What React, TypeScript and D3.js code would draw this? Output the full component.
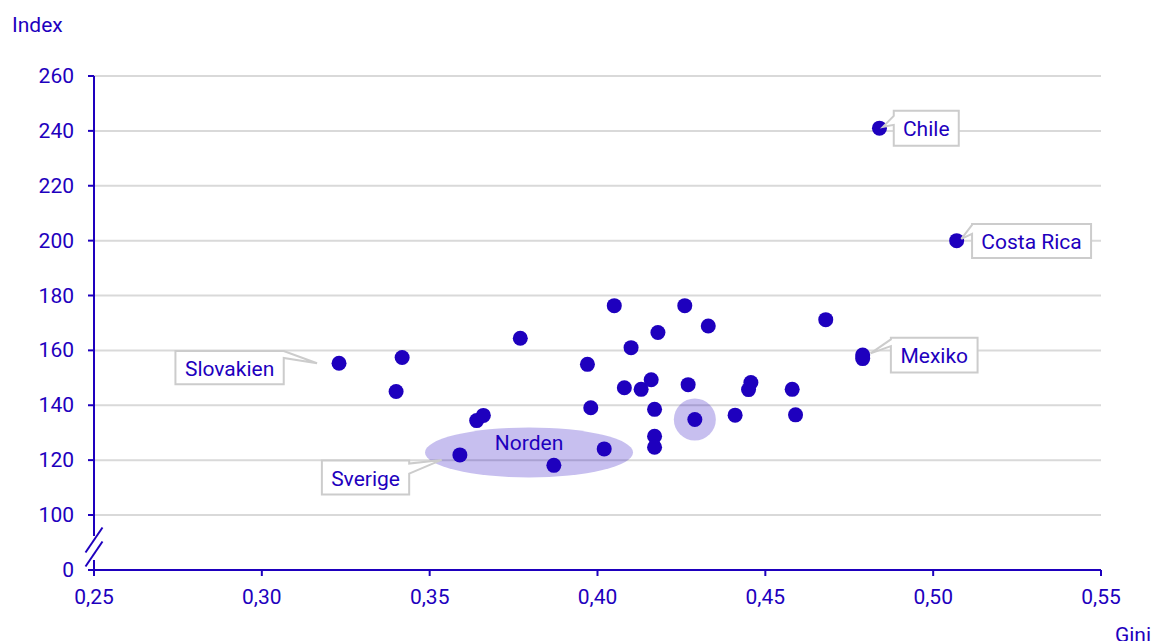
import React from "react";
import * as d3 from "d3";

const giniValues = [
  0.323, 0.3418, 0.340, 0.364, 0.366, 0.377, 0.359, 0.387, 0.402, 0.397,
  0.398, 0.405, 0.410, 0.408, 0.413, 0.416, 0.417, 0.417, 0.417, 0.418,
  0.426, 0.427, 0.429, 0.433, 0.441, 0.4457, 0.445, 0.458, 0.459, 0.468,
  0.479, 0.479, 0.484, 0.507,
];
const indexValues = [
  155.3, 157.4, 145.0, 134.4, 136.3, 164.4, 121.9, 118.1, 124.1, 154.9,
  139.1, 176.3, 161.0, 146.4, 145.8, 149.3, 138.5, 128.7, 124.7, 166.5,
  176.3, 147.5, 134.8, 168.9, 136.4, 148.3, 145.7, 145.8, 136.5, 171.2,
  158.3, 157.0, 241.0, 200.0,
];
const xTicks = [0.25, 0.3, 0.35, 0.4, 0.45, 0.5, 0.55];
const yTicks = [0, 100, 120, 140, 160, 180, 200, 220, 240, 260];
const gridTicks = [100, 120, 140, 160, 180, 200, 220, 240, 260];

// annotation labels: index of point, label text
const labelNames = ["Chile", "Costa Rica", "Mexiko", "Slovakien", "Sverige"];
const labelPoints = [32, 33, 31, 0, 6];
const highlightPoint = 22;
const nordenCenter = { gini: 0.3796, index: 122.8 };

const BLUE = "#1e00be";
const GRID = "#d9d9d9";
const BOX = "#cccccc";
const FONT = "Roboto, 'Noto Sans', sans-serif";
const FS = 21;

// layout of callouts relative to the anchor point (pixels)
const calloutLayout = [
  { x0: 14.3, y0: -17.3, w: 65, h: 35, side: "left", ya: 5, yb: 14, tx: 3.5, ty: -1.3 },
  { x0: 15.4, y0: -16.7, w: 119, h: 34, side: "left", ya: 1, yb: 10, tx: 4.7, ty: -1.7 },
  { x0: 28.2, y0: -20.8, w: 86.7, h: 34.6, side: "left", ya: 1.6, yb: 8.3, tx: 7.9, ty: -5.2 },
  { x0: -163.6, y0: -12.3, w: 108.3, h: 33.3, side: "right", ya: 0, yb: 7, tx: -22, ty: 0 },
  { x0: -138, y0: 5.7, w: 87.3, h: 34, side: "right", ya: 3, yb: 13, tx: -18.3, ty: 5 },
];

const fmt = d3.formatLocale({ decimal: ",", thousands: " ", grouping: [3], currency: ["", ""] }).format(".2f");

export default function App() {
  const W = 1156;
  const H = 641;
  const x = d3.scaleLinear().domain([0.25, 0.55]).range([94, 1101]);
  const y = d3.scaleLinear().domain([0, 100, 260]).range([570, 515, 76]);

  const points = giniValues.map((g, i) => ({ g, v: indexValues[i] }));
  const x0 = x(0.25);
  const x1 = x(0.55);
  const yBase = y(0);

  const breakMid1 = yBase - 30;
  const breakMid2 = yBase - 16;

  return (
    <svg
      width={W}
      height={H}
      style={{ position: "absolute", left: 0, top: 0, background: "#fff" }}
      fontFamily={FONT}
    >
      {/* grid */}
      {gridTicks.map((t) => (
        <line key={t} x1={x0} x2={x1} y1={y(t)} y2={y(t)} stroke={GRID} strokeWidth={2} />
      ))}

      {/* Norden ellipse */}
      <ellipse
        cx={x(nordenCenter.gini)}
        cy={y(nordenCenter.index)}
        rx={104}
        ry={25}
        fill={BLUE}
        fillOpacity={0.25}
      />
      <text
        x={x(nordenCenter.gini)}
        y={y(nordenCenter.index) - 9}
        textAnchor="middle"
        dominantBaseline="central"
        fontSize={FS}
        fill={BLUE}
      >
        Norden
      </text>

      {/* highlight circle */}
      <circle
        cx={x(points[highlightPoint].g)}
        cy={y(points[highlightPoint].v)}
        r={21}
        fill={BLUE}
        fillOpacity={0.25}
      />

      {/* axes */}
      <line x1={x0 - 6} x2={x1} y1={yBase} y2={yBase} stroke={BLUE} strokeWidth={2} />
      <line x1={x0} x2={x0} y1={y(260)} y2={breakMid1 - 4} stroke={BLUE} strokeWidth={2} />
      <line x1={x0} x2={x0} y1={breakMid2 + 6} y2={yBase + 6} stroke={BLUE} strokeWidth={2} />
      {[breakMid1, breakMid2].map((m, i) => (
        <line
          key={i}
          x1={x0 - 8.5}
          y1={m + 12.5}
          x2={x0 + 8.5}
          y2={m - 12.5}
          stroke={BLUE}
          strokeWidth={2}
        />
      ))}
      {yTicks.map((t) => (
        <g key={t}>
          <line x1={x0 - 6} x2={x0} y1={y(t)} y2={y(t)} stroke={BLUE} strokeWidth={2} />
          <text
            x={x0 - 20}
            y={y(t)}
            textAnchor="end"
            dominantBaseline="central"
            fontSize={FS}
            fill={BLUE}
          >
            {t}
          </text>
        </g>
      ))}
      {xTicks.map((t) => (
        <g key={t}>
          <line x1={x(t)} x2={x(t)} y1={yBase} y2={yBase + 6} stroke={BLUE} strokeWidth={2} />
          <text
            x={x(t)}
            y={yBase + 27}
            textAnchor="middle"
            dominantBaseline="central"
            fontSize={FS}
            fill={BLUE}
          >
            {fmt(t)}
          </text>
        </g>
      ))}
      <text x={12} y={25} dominantBaseline="central" fontSize={FS} fill={BLUE}>
        Index
      </text>
      <text x={1151} y={642} textAnchor="end" fontSize={FS} fill={BLUE}>
        Gini
      </text>

      {/* points */}
      {points.map((p, i) => (
        <circle key={i} cx={x(p.g)} cy={y(p.v)} r={7.5} fill={BLUE} />
      ))}

      {/* callouts */}
      {labelNames.map((name, i) => {
        const p = points[labelPoints[i]];
        const px = x(p.g);
        const py = y(p.v);
        const L = calloutLayout[i];
        const bx0 = px + L.x0;
        const by0 = py + L.y0;
        const bx1 = bx0 + L.w;
        const by1 = by0 + L.h;
        const tx = px + L.tx;
        const ty = py + L.ty;
        let d;
        if (L.side === "left") {
          d = `M${bx0},${by0}L${bx1},${by0}L${bx1},${by1}L${bx0},${by1}L${bx0},${by0 + L.yb}L${tx},${ty}L${bx0},${by0 + L.ya}Z`;
        } else {
          d = `M${bx0},${by0}L${bx1},${by0}L${bx1},${by0 + L.ya}L${tx},${ty}L${bx1},${by0 + L.yb}L${bx1},${by1}L${bx0},${by1}Z`;
        }
        return (
          <g key={name}>
            <path d={d} fill="#fff" stroke={BOX} strokeWidth={2} strokeLinejoin="miter" />
            <text
              x={(bx0 + bx1) / 2}
              y={(by0 + by1) / 2 + 1}
              textAnchor="middle"
              dominantBaseline="central"
              fontSize={FS}
              fill={BLUE}
            >
              {name}
            </text>
          </g>
        );
      })}
    </svg>
  );
}
